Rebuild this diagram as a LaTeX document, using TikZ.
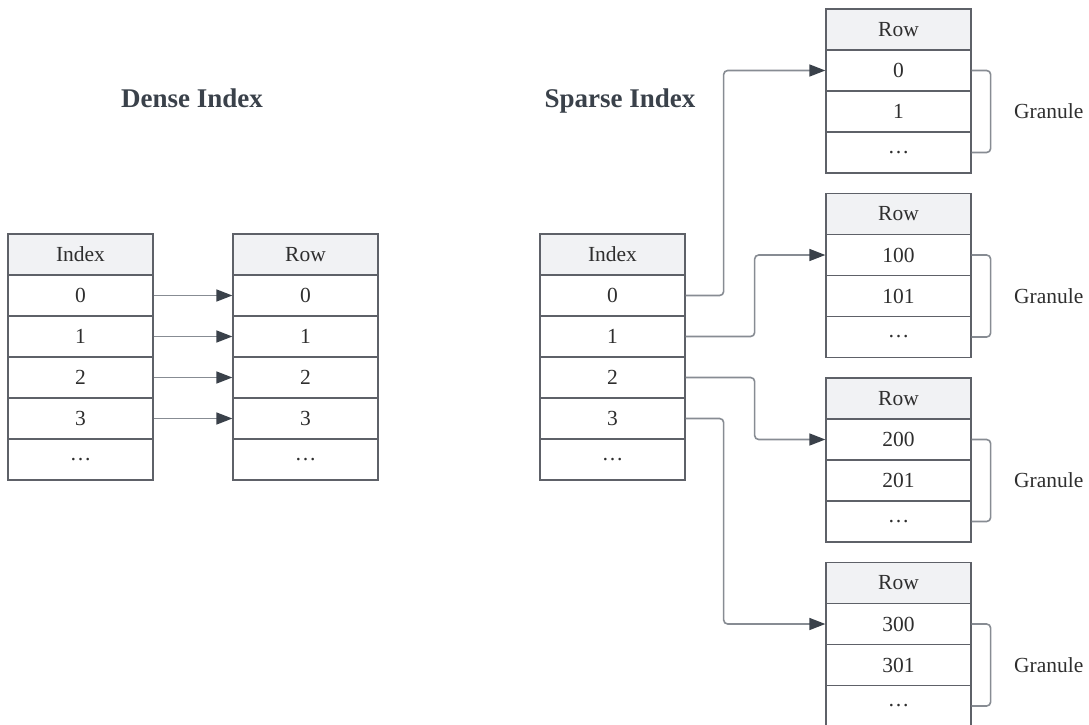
\documentclass[tikz,border=0pt]{standalone}
\usepackage{fontspec}
\setmainfont{Liberation Serif}
\usetikzlibrary{arrows.meta}
\definecolor{bordc}{HTML}{5E6168}
\definecolor{headc}{HTML}{F1F2F4}
\definecolor{txtc}{HTML}{2E2E2E}
\definecolor{titc}{HTML}{3A414A}
\definecolor{linec}{HTML}{878C93}
\definecolor{tipc}{HTML}{3A414A}
\begin{document}
\begin{tikzpicture}[x=1pt,y=-1pt,
  cell/.style={draw=bordc,line width=1.3pt,fill=white,minimum width=145pt,minimum height=41pt,inner sep=0pt,
    text=txtc,font=\fontsize{21.5}{25}\selectfont},
  head/.style={cell,fill=headc},
  title/.style={text=titc,font=\fontsize{27}{31}\selectfont\bfseries,anchor=base},
  conn/.style={draw=linec,line width=1.6pt,rounded corners=4pt,
    -{Triangle[length=16pt,width=12pt,color=tipc,fill=tipc]}},
  brack/.style={draw=linec,line width=1.6pt,rounded corners=4pt},
  gran/.style={text=txtc,font=\fontsize{21.5}{25}\selectfont,anchor=west,inner sep=0pt}]
\useasboundingbox (0,0) rectangle (1089,725);
% titles
\node[title] (tdense) at (192,107) {Dense Index};
\node[title] (tsparse) at (620,107) {Sparse Index};
% dense index table
\node[head] (di) at (80.5,254.5) {Index};
\node[cell] (di0) at (80.5,295.5) {0};
\node[cell] (di1) at (80.5,336.5) {1};
\node[cell] (di2) at (80.5,377.5) {2};
\node[cell] (di3) at (80.5,418.5) {3};
\node[cell] (di4) at (80.5,459.5) {\ldots};
% dense row table
\node[head] (dr) at (305.5,254.5) {Row};
\node[cell] (dr0) at (305.5,295.5) {0};
\node[cell] (dr1) at (305.5,336.5) {1};
\node[cell] (dr2) at (305.5,377.5) {2};
\node[cell] (dr3) at (305.5,418.5) {3};
\node[cell] (dr4) at (305.5,459.5) {\ldots};
\foreach \i in {0,1,2,3}{\draw[conn] (di\i.east) -- (dr\i.west);}
% sparse index table
\node[head] (si) at (612.5,254.5) {Index};
\node[cell] (si0) at (612.5,295.5) {0};
\node[cell] (si1) at (612.5,336.5) {1};
\node[cell] (si2) at (612.5,377.5) {2};
\node[cell] (si3) at (612.5,418.5) {3};
\node[cell] (si4) at (612.5,459.5) {\ldots};
% granule tables
\foreach \t/\top/\a/\b in {1/9/0/1,2/193.5/100/101,3/378/200/201,4/562.5/300/301}{
  \node[head] (g\t h) at (898.5,\top+20.5) {Row};
  \node[cell] (g\t r0) at (898.5,\top+61.5) {\a};
  \node[cell] (g\t r1) at (898.5,\top+102.5) {\b};
  \node[cell] (g\t r2) at (898.5,\top+143.5) {\ldots};
  \draw[brack] (g\t r0.east) -- ++(19,0) |- (g\t r2.east);
  \node[gran] (gl\t) at (1014,\top+102.5) {Granule};
}
% sparse connectors
\draw[conn] (si0.east) -- ++(38,0) |- (g1r0.west);
\draw[conn] (si1.east) -- ++(69,0) |- (g2r0.west);
\draw[conn] (si2.east) -- ++(69,0) |- (g3r0.west);
\draw[conn] (si3.east) -- ++(38,0) |- (g4r0.west);
\end{tikzpicture}
\end{document}
